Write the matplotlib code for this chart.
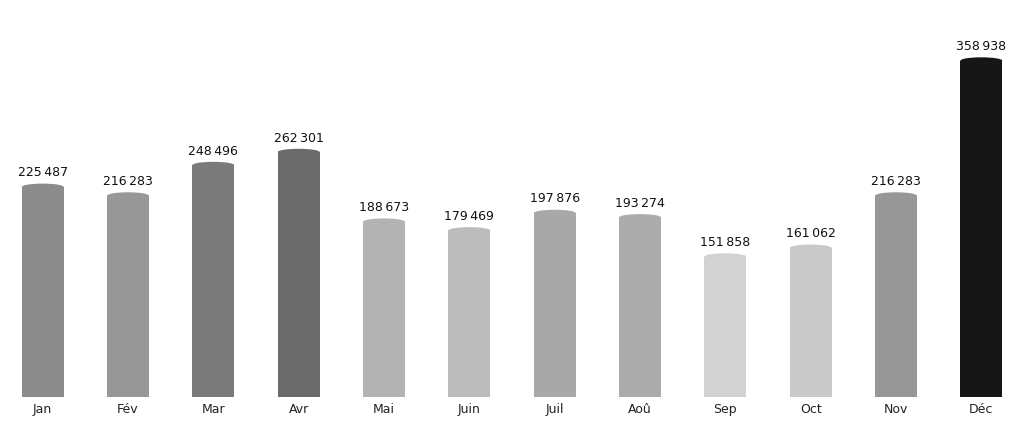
import matplotlib
matplotlib.use("Agg")
import matplotlib.pyplot as plt
from matplotlib.patches import Ellipse

months = ["Jan", "Fév", "Mar", "Avr", "Mai", "Juin", "Juil", "Aoû", "Sep", "Oct", "Nov", "Déc"]
values = [225487, 216283, 248496, 262301, 188673, 179469, 197876, 193274, 151858, 161062, 216283, 358938]
colors = ["#8c8c8c", "#979797", "#7a7a7a", "#6b6b6b", "#b3b3b3", "#bcbcbc",
          "#a8a8a8", "#acacac", "#d2d2d2", "#c9c9c9", "#979797", "#161616"]

fig = plt.figure(figsize=(10.24, 4.22), dpi=100)
ax = fig.add_axes([0, 25 / 422, 1, 1 - 25 / 422])

width = 0.49
cap = 7000  # height of the rounded top, in data units
x = list(range(len(months)))

for i, (v, c) in enumerate(zip(values, colors)):
    ax.bar(i, v - cap / 2, width=width, color=c, linewidth=0)
    ax.add_patch(Ellipse((i, v - cap / 2), width, cap, color=c, linewidth=0))
    label = f"{v:,}".replace(",", "\u202f")
    ax.text(i, v + 4500, label, ha="center", va="bottom", fontsize=9, color="#111111")

ax.set_xlim(-0.5, len(months) - 0.5)
ax.set_ylim(0, 419500)
ax.set_xticks(x)
ax.set_xticklabels(months, fontsize=9, color="#222222")
ax.tick_params(axis="x", length=0, pad=4)
ax.set_yticks([])
for s in ax.spines.values():
    s.set_visible(False)

fig.savefig("out.png", dpi=100)
